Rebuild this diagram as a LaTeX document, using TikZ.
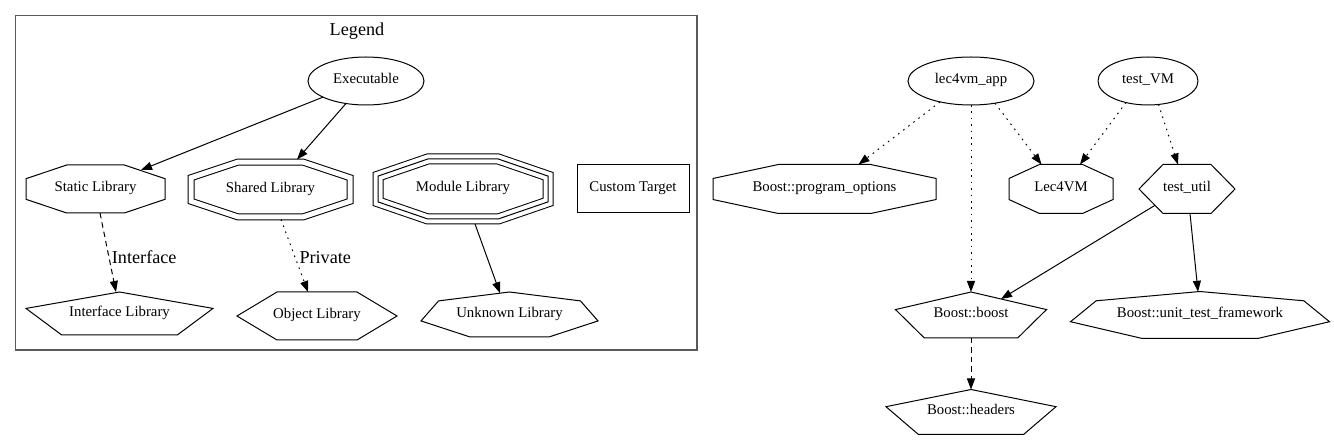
\documentclass[tikz,border=0pt]{standalone}
\usepackage{fontspec}
\setmainfont{Liberation Serif}
\newfontfamily\tmsfont{Liberation Serif}
\usetikzlibrary{arrows.meta,calc}
\newcommand\octP[2]{({-0.414*#1},{-#2}) -- ({0.414*#1},{-#2}) -- ({#1},{-0.43*#2}) -- ({#1},{0.43*#2}) -- ({0.414*#1},{#2}) -- ({-0.414*#1},{#2}) -- ({-#1},{0.43*#2}) -- ({-#1},{-0.43*#2}) -- cycle}
\newcommand\hexP[2]{({-#1},0) -- ({-0.5*#1},{-#2}) -- ({0.5*#1},{-#2}) -- ({#1},0) -- ({0.5*#1},{#2}) -- ({-0.5*#1},{#2}) -- cycle}
\newcommand\pentP[2]{(0,{-#2}) -- ({#1},{-0.236*#2}) -- ({0.618*#1},{#2}) -- ({-0.618*#1},{#2}) -- ({-#1},{-0.236*#2}) -- cycle}
\newcommand\septP[2]{(0,{-#2}) -- ({0.802*#1},{-0.604*#2}) -- ({#1},{0.286*#2}) -- ({0.445*#1},{#2}) -- ({-0.445*#1},{#2}) -- ({-#1},{0.286*#2}) -- ({-0.802*#1},{-0.604*#2}) -- cycle}
\begin{document}
\begin{tikzpicture}[x=1pt,y=-1pt,
  lbl/.style={inner sep=0pt, font=\tmsfont\fontsize{14.8}{16}\selectfont, text height=0.8em, text depth=0.2em},
  elbl/.style={inner sep=0pt, font=\tmsfont\fontsize{18.2}{20}\selectfont},
  shp/.style={line width=1pt, line join=miter},
  conn/.style={line width=1pt, -{Triangle[length=11pt,width=8pt]}},
  dotl/.style={dash pattern=on 1.6pt off 4.8pt},
  dashl/.style={dash pattern=on 5.5pt off 4pt},
]
\useasboundingbox (0,0) rectangle (1334,443);
% legend frame
\draw[line width=1.6pt, black!65] (15.5,15.5) rectangle (697,350);
\node[elbl, anchor=base] (legend) at (357,36) {Legend};

% legend nodes
\node[lbl] (exe) at (366,81) {Executable};
\draw[shp] (exe.center) ellipse [x radius=58, y radius=24];
\node[lbl] (static) at (95.5,189) {Static Library};
\draw[shp, shift={(static.center)}] \octP{69.5}{24};
\node[lbl] (shared) at (270.5,189.5) {Shared Library};
\draw[shp, double, double distance=5pt, shift={(shared.center)}] \octP{79.5}{27.3};
\node[lbl] (module) at (463,189) {Module Library};
\draw[shp, double, double distance=9pt, shift={(module.center)}] \octP{85}{30};
\draw[shp, shift={(module.center)}] \octP{85}{30};
\node[lbl] (custom) at (633,189) {Custom Target};
\draw[shp] ($(custom.center)+(-56,-24)$) rectangle ($(custom.center)+(56,24)$);
\node[lbl] (iface) at (119.5,313.5) {Interface Library};
\draw[shp, shift={(iface.center)}] \pentP{93.5}{21.5};
\node[lbl] (object) at (317,316) {Object Library};
\draw[shp, shift={(object.center)}] \hexP{80}{24};
\node[lbl] (unknown) at (509.5,314.5) {Unknown Library};
\draw[shp, shift={(unknown.center)}] \septP{88.5}{22.5};

% legend edges
\draw[conn] ($(exe.center)+(-43,16.1)$) -- ($(static.center)+(45.5,-19)$);
\draw[conn] ($(exe.center)+(-20,22.5)$) -- ($(shared.center)+(26.5,-30)$);
\draw[conn, dashl] ($(static.center)+(4.5,24)$) -- ($(iface.center)+(-3.5,-21.5)$);
\node[elbl, anchor=base west] (lblI) at (111.7,263.3) {Interface};
\draw[conn, dotl] ($(shared.center)+(10.5,30)$) -- ($(object.center)+(-9,-24)$);
\node[elbl, anchor=base west] (lblP) at (299.3,263.3) {Private};
\draw[conn] ($(module.center)+(12,35)$) -- ($(unknown.center)+(-9.5,-21.3)$);

% main graph nodes
\node[lbl] (app) at (971,81) {lec4vm\_app};
\draw[shp] (app.center) ellipse [x radius=63, y radius=24];
\node[lbl] (tvm) at (1148,81) {test\_VM};
\draw[shp] (tvm.center) ellipse [x radius=50, y radius=24];
\node[lbl] (po) at (824.5,189) {Boost::program\_options};
\draw[shp, shift={(po.center)}] \octP{111.5}{24.5};
\node[lbl] (lec) at (1061,189) {Lec4VM};
\draw[shp, shift={(lec.center)}] \octP{52}{24.5};
\node[lbl] (tutil) at (1187,189) {test\_util};
\draw[shp, shift={(tutil.center)}] \hexP{48}{24.5};
\node[lbl] (bboost) at (971,315) {Boost::boost};
\draw[shp, shift={(bboost.center)}] \pentP{75.5}{23};
\node[lbl] (utf) at (1200,315) {Boost::unit\_test\_framework};
\draw[shp, shift={(utf.center)}] \septP{129.5}{23.5};
\node[lbl] (bheaders) at (971,412) {Boost::headers};
\draw[shp, shift={(bheaders.center)}] \pentP{85}{22.5};

% main graph edges
\draw[conn, dotl] ($(app.center)+(-31,21)$) -- ($(po.center)+(34,-24.5)$);
\draw[conn, dotl] ($(app.center)+(0,24)$) -- ($(bboost.center)+(0,-23)$);
\draw[conn, dotl] ($(app.center)+(24,22.2)$) -- ($(lec.center)+(-19.5,-24.5)$);
\draw[conn, dotl] ($(tvm.center)+(-22,21.5)$) -- ($(lec.center)+(19,-24.5)$);
\draw[conn, dotl] ($(tvm.center)+(10.5,23.4)$) -- ($(tutil.center)+(-9,-24.5)$);
\draw[conn] ($(tutil.center)+(-32,16.3)$) -- ($(bboost.center)+(30,-16)$);
\draw[conn] ($(tutil.center)+(3,24.5)$) -- ($(utf.center)+(-2,-23.2)$);
\draw[conn, dashl] ($(bboost.center)+(0,23)$) -- ($(bheaders.center)+(0,-22.5)$);
\end{tikzpicture}
\end{document}
